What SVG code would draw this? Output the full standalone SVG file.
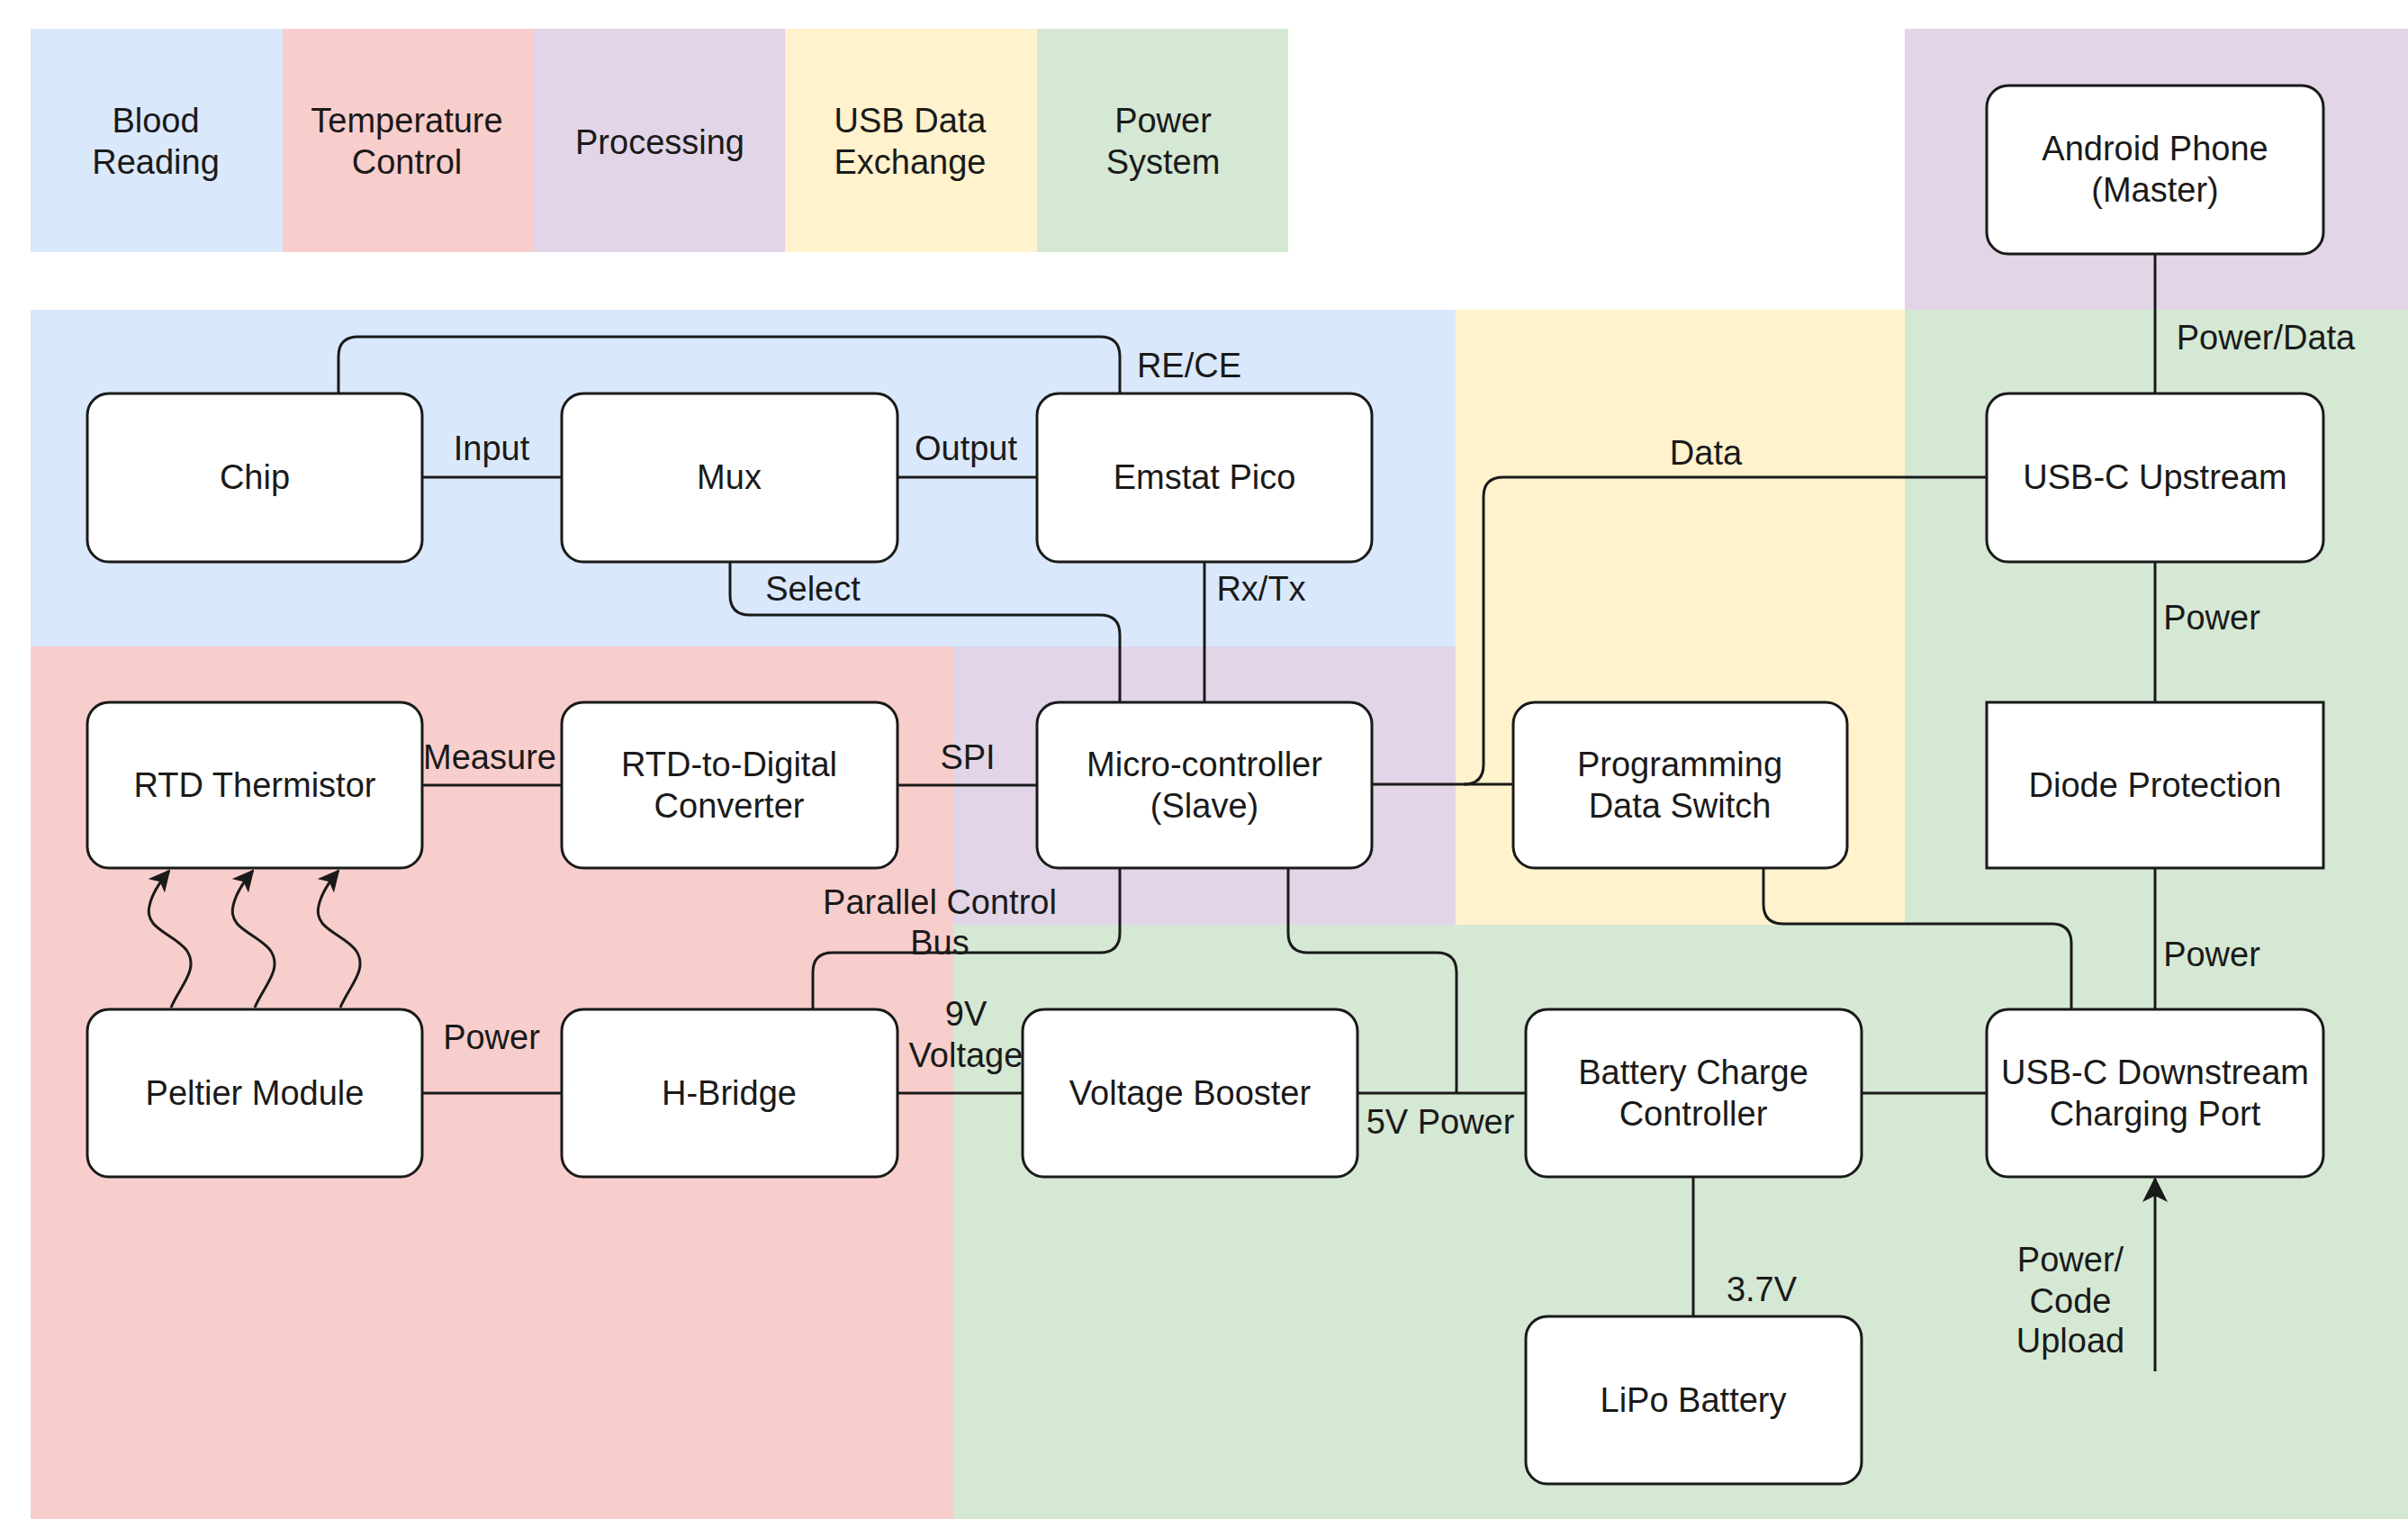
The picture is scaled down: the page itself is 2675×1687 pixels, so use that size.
<svg xmlns="http://www.w3.org/2000/svg" width="2675" height="1687" viewBox="0 0 2675 1687">
<style>
text{font-family:"Liberation Sans",Arial,Helvetica,sans-serif;font-size:38px;fill:#1a1a1a;text-anchor:middle}
.box{fill:#ffffff;stroke:#1a1a1a;stroke-width:3}
.ln{fill:none;stroke:#1a1a1a;stroke-width:3}
.blue{fill:#dae8fc}.red{fill:#f8cecc}.purple{fill:#e1d5e7}.yellow{fill:#fff2cc}.green{fill:#d5e8d4}
</style>
<defs>
<marker id="arr" markerUnits="userSpaceOnUse" markerWidth="28" markerHeight="28" viewBox="0 0 28 28" refX="26" refY="14" orient="auto">
<path d="M0,0 L28,14 L0,28 L7,14 Z" fill="#1a1a1a"/>
</marker>
<marker id="arrs" markerUnits="userSpaceOnUse" markerWidth="24" markerHeight="24" viewBox="0 0 24 24" refX="22" refY="12" orient="auto">
<path d="M0,0 L24,12 L0,24 L6,12 Z" fill="#1a1a1a"/>
</marker>
</defs>
<rect width="2675" height="1687" fill="#ffffff"/>
<g id="regions">
<rect class="blue" x="34" y="344" width="1583" height="374"/>
<rect class="red" x="34" y="718" width="1025" height="969"/>
<rect class="purple" x="1059" y="718" width="558" height="309"/>
<rect class="yellow" x="1617" y="344" width="499" height="683"/>
<rect class="green" x="2116" y="344" width="559" height="683"/>
<rect class="green" x="1059" y="1027" width="1616" height="660"/>
<rect class="purple" x="2116" y="32" width="559" height="312"/>
</g>
<g id="legend">
<rect class="blue" x="34" y="32" width="280" height="248"/>
<rect class="red" x="314" y="32" width="279" height="248"/>
<rect class="purple" x="593" y="32" width="279" height="248"/>
<rect class="yellow" x="872" y="32" width="280" height="248"/>
<rect class="green" x="1152" y="32" width="279" height="248"/>
<text x="173" y="147">Blood</text><text x="173" y="193">Reading</text>
<text x="452" y="147">Temperature</text><text x="452" y="193">Control</text>
<text x="733" y="171">Processing</text>
<text x="1011" y="147">USB Data</text><text x="1011" y="193">Exchange</text>
<text x="1292" y="147">Power</text><text x="1292" y="193">System</text>
</g>
<g id="connectors">
<path class="ln" d="M376,437 V396 Q376,374 398,374 H1222 Q1244,374 1244,396 V437"/>
<path class="ln" d="M469,530 H624"/>
<path class="ln" d="M997,530 H1152"/>
<path class="ln" d="M811,624 V661 Q811,683 833,683 H1222 Q1244,683 1244,705 V780"/>
<path class="ln" d="M1338,624 V780"/>
<path class="ln" d="M469,872 H624"/>
<path class="ln" d="M997,872 H1152"/>
<path class="ln" d="M1244,964 V1036 Q1244,1058 1222,1058 H925 Q903,1058 903,1080 V1121"/>
<path class="ln" d="M469,1214 H624"/>
<path class="ln" d="M997,1214 H1136"/>
<path class="ln" d="M1508,1214 H1695"/>
<path class="ln" d="M1431,964 V1036 Q1431,1058 1453,1058 H1596 Q1618,1058 1618,1080 V1214"/>
<path class="ln" d="M1524,871 H1681"/>
<path class="ln" d="M2207,530 H1670 Q1648,530 1648,552 V849 Q1648,871 1626,871"/>
<path class="ln" d="M1959,964 V1004 Q1959,1026 1981,1026 H2279 Q2301,1026 2301,1048 V1121"/>
<path class="ln" d="M2394,282 V437"/>
<path class="ln" d="M2394,624 V780"/>
<path class="ln" d="M2394,964 V1121"/>
<path class="ln" d="M2068,1214 H2207"/>
<path class="ln" d="M1881,1307 V1462"/>
<path class="ln" d="M2394,1523 V1309" marker-end="url(#arr)"/>
<path class="ln" d="M190,1119 C200,1095 222,1076 207,1055 C192,1036 160,1032 166,1006 C169,992 177,980 188,967" marker-end="url(#arrs)"/>
<path class="ln" d="M283,1119 C293,1095 315,1076 300,1055 C285,1036 253,1032 259,1006 C262,992 270,980 281,967" marker-end="url(#arrs)"/>
<path class="ln" d="M378,1119 C388,1095 410,1076 395,1055 C380,1036 348,1032 354,1006 C357,992 365,980 376,967" marker-end="url(#arrs)"/>
<text x="1321" y="419">RE/CE</text>
<text x="546" y="511">Input</text>
<text x="1073" y="511">Output</text>
<text x="903" y="667">Select</text>
<text x="1401" y="667">Rx/Tx</text>
<text x="544" y="854">Measure</text>
<text x="1075" y="854">SPI</text>
<text x="1044" y="1015">Parallel Control</text>
<text x="1044" y="1060">Bus</text>
<text x="546" y="1165">Power</text>
<text x="1073" y="1139">9V</text>
<text x="1073" y="1185">Voltage</text>
<text x="1600" y="1259">5V Power</text>
<text x="1895" y="516">Data</text>
<text x="2517" y="388">Power/Data</text>
<text x="2457" y="699">Power</text>
<text x="2457" y="1073">Power</text>
<text x="1957" y="1445">3.7V</text>
<text x="2300" y="1412">Power/</text>
<text x="2300" y="1458">Code</text>
<text x="2300" y="1502">Upload</text>
</g>
<g id="chip"><rect class="box" x="97" y="437" width="372" height="187" rx="24"/><text x="283" y="543">Chip</text></g>
<g id="mux"><rect class="box" x="624" y="437" width="373" height="187" rx="24"/><text x="810" y="543">Mux</text></g>
<g id="emstat"><rect class="box" x="1152" y="437" width="372" height="187" rx="24"/><text x="1338" y="543">Emstat Pico</text></g>
<g id="rtd"><rect class="box" x="97" y="780" width="372" height="184" rx="24"/><text x="283" y="885">RTD Thermistor</text></g>
<g id="rtdconv"><rect class="box" x="624" y="780" width="373" height="184" rx="24"/><text x="810" y="862">RTD-to-Digital</text><text x="810" y="908">Converter</text></g>
<g id="micro"><rect class="box" x="1152" y="780" width="372" height="184" rx="24"/><text x="1338" y="862">Micro-controller</text><text x="1338" y="908">(Slave)</text></g>
<g id="progswitch"><rect class="box" x="1681" y="780" width="371" height="184" rx="24"/><text x="1866" y="862">Programming</text><text x="1866" y="908">Data Switch</text></g>
<g id="diode"><rect class="box" x="2207" y="780" width="374" height="184"/><text x="2394" y="885">Diode Protection</text></g>
<g id="peltier"><rect class="box" x="97" y="1121" width="372" height="186" rx="24"/><text x="283" y="1227">Peltier Module</text></g>
<g id="hbridge"><rect class="box" x="624" y="1121" width="373" height="186" rx="24"/><text x="810" y="1227">H-Bridge</text></g>
<g id="booster"><rect class="box" x="1136" y="1121" width="372" height="186" rx="24"/><text x="1322" y="1227">Voltage Booster</text></g>
<g id="battery"><rect class="box" x="1695" y="1121" width="373" height="186" rx="24"/><text x="1881" y="1204">Battery Charge</text><text x="1881" y="1250">Controller</text></g>
<g id="downstream"><rect class="box" x="2207" y="1121" width="374" height="186" rx="24"/><text x="2394" y="1204">USB-C Downstream</text><text x="2394" y="1250">Charging Port</text></g>
<g id="lipo"><rect class="box" x="1695" y="1462" width="373" height="186" rx="24"/><text x="1881" y="1568">LiPo Battery</text></g>
<g id="android"><rect class="box" x="2207" y="95" width="374" height="187" rx="24"/><text x="2394" y="178">Android Phone</text><text x="2394" y="224">(Master)</text></g>
<g id="upstream"><rect class="box" x="2207" y="437" width="374" height="187" rx="24"/><text x="2394" y="543">USB-C Upstream</text></g>
</svg>
